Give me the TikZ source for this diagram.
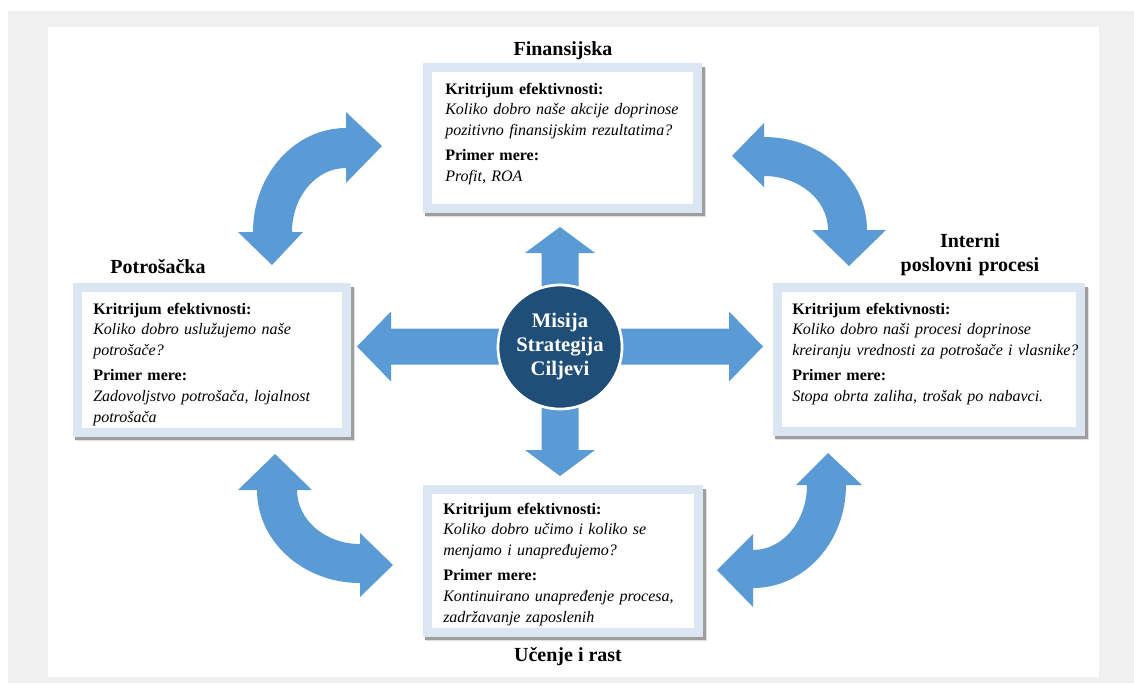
\documentclass[tikz,border=0pt]{standalone}
\usepackage{fontspec}
\setmainfont{Liberation Serif}
\usetikzlibrary{calc}
\definecolor{pagegray}{HTML}{F0F0F0}
\definecolor{arrowblue}{HTML}{5B9BD5}
\definecolor{hubblue}{HTML}{1F4E79}
\definecolor{frameblue}{HTML}{DCE6F2}

% framed panel with a soft shadow: name, x1, y1, x2, y2 (pixel grid, y downwards)
\newcommand\panelbox[5]{%
  \fill[black!12] ({#2+3},{#3+5}) rectangle ({#4+4},{#5+4});
  \fill[black!38] ({#2+2},{#3+4}) rectangle ({#4+2.5},{#5+2.5});
  \node[panel, minimum width={(#4-#2)*0.75pt}, minimum height={(#5-#3)*0.75pt}]
    (#1) at ({(#2+#4)/2},{(#3+#5)/2}) {};
  \node[panelin, minimum width={(#4-#2-18)*0.75pt}, minimum height={(#5-#3-18)*0.75pt}]
    (#1-in) at (#1.center) {};
}

\begin{document}
\begin{tikzpicture}[x=0.75pt,y=-0.75pt,
  panel/.style={fill=frameblue, inner sep=0pt, outer sep=0pt},
  panelin/.style={fill=white, inner sep=0pt, outer sep=0pt},
  heading/.style={font=\fontsize{15}{18}\selectfont\bfseries, inner sep=0pt, anchor=base},
  bodytext/.style={font=\fontsize{12}{15.4}\selectfont, inner sep=0pt, anchor=base west,
    text width=260pt, align=left},
  flow/.style={fill=arrowblue},
]
\useasboundingbox (0,0) rectangle (1134,683);
\fill[white] (0,0) rectangle (1134,683);
\fill[pagegray] (8,11) rectangle (1134,683);
\fill[white] (48,27) rectangle (1099,677);

% curved two-way arrows between the perspectives
\fill[flow] (253,232) arc[start angle=180, end angle=270, x radius=93, y radius=104]
  -- (346,112) -- (382,146) -- (346,183) -- (346,168)
  arc[start angle=270, end angle=180, x radius=54, y radius=64]
  -- (303,232) -- (272,265) -- (238,232) -- cycle;
\fill[flow] (764,137) arc[start angle=270, end angle=360, x radius=103, y radius=93]
  -- (886,230) -- (849,266) -- (812,230) -- (828,230)
  arc[start angle=0, end angle=-90, x radius=64, y radius=54]
  -- (764,187) -- (732,156) -- (764,123) -- cycle;
\fill[flow] (257,490) arc[start angle=180, end angle=90, x radius=103, y radius=93]
  -- (360,597) -- (393,565) -- (360,533) -- (360,544)
  arc[start angle=90, end angle=180, x radius=63, y radius=54]
  -- (312,490) -- (275,454) -- (238,490) -- cycle;
\fill[flow] (846,485) arc[start angle=0, end angle=90, x radius=93, y radius=103]
  -- (753,607) -- (717,570) -- (753,534) -- (753,550)
  arc[start angle=90, end angle=0, x radius=54, y radius=65]
  -- (796,485) -- (828,453) -- (862,485) -- cycle;

% straight arrows out of the hub
\fill[flow] (541.5,320) -- (541.5,253) -- (525,253) -- (560,227) -- (595,253) -- (578.5,253) -- (578.5,320) -- cycle;
\fill[flow] (541.5,375) -- (541.5,450) -- (525,450) -- (560,476) -- (595,450) -- (578.5,450) -- (578.5,375) -- cycle;
\fill[flow] (530,328.5) -- (391,328.5) -- (391,311.5) -- (357,346.5) -- (391,381.5) -- (391,364.5) -- (530,364.5) -- cycle;
\fill[flow] (590,328.5) -- (729,328.5) -- (729,311.5) -- (763,346.5) -- (729,381.5) -- (729,364.5) -- (590,364.5) -- cycle;

% hub
\node[circle, fill=hubblue, draw=white, line width=2pt, minimum size=93pt, inner sep=0pt,
  text=white, align=center, font=\fontsize{15.5}{18}\selectfont\bfseries]
  (hub) at (560,347) {Misija\\Strategija\\Ciljevi};

% panels
\panelbox{fin}{423}{63}{702}{213}
\panelbox{pot}{73}{283}{351}{437}
\panelbox{int}{773}{283}{1085}{436}
\panelbox{uce}{423}{485}{703}{637}

% headings
\node[heading] (h-fin) at (563,55) {Finansijska};
\node[heading] (h-pot) at (158,273) {Potrošačka};
\node[heading, text width=160pt, align=center] (h-int) at (970,247) {Interni\\poslovni procesi};
\node[heading] (h-uce) at (568,661) {Učenje i rast};

% panel texts
\node[bodytext] (b-fin) at (445,94) {\textbf{Kritrijum efektivnosti:}\\
  \textit{Koliko dobro naše akcije doprinose}\\
  \textit{pozitivno finansijskim rezultatima?}\\[4pt]
  \textbf{Primer mere:}\\
  \textit{Profit, ROA}};
\node[bodytext] (b-pot) at (93,314) {\textbf{Kritrijum efektivnosti:}\\
  \textit{Koliko dobro uslužujemo naše}\\
  \textit{potrošače?}\\[4pt]
  \textbf{Primer mere:}\\
  \textit{Zadovoljstvo potrošača, lojalnost}\\
  \textit{potrošača}};
\node[bodytext] (b-int) at (792,314) {\textbf{Kritrijum efektivnosti:}\\
  \textit{Koliko dobro naši procesi doprinose}\\
  \textit{kreiranju vrednosti za potrošače i vlasnike?}\\[4pt]
  \textbf{Primer mere:}\\
  \textit{Stopa obrta zaliha, trošak po nabavci.}};
\node[bodytext] (b-uce) at (443,514) {\textbf{Kritrijum efektivnosti:}\\
  \textit{Koliko dobro učimo i koliko se}\\
  \textit{menjamo i unapređujemo?}\\[4pt]
  \textbf{Primer mere:}\\
  \textit{Kontinuirano unapređenje procesa,}\\
  \textit{zadržavanje zaposlenih}};
\end{tikzpicture}
\end{document}
